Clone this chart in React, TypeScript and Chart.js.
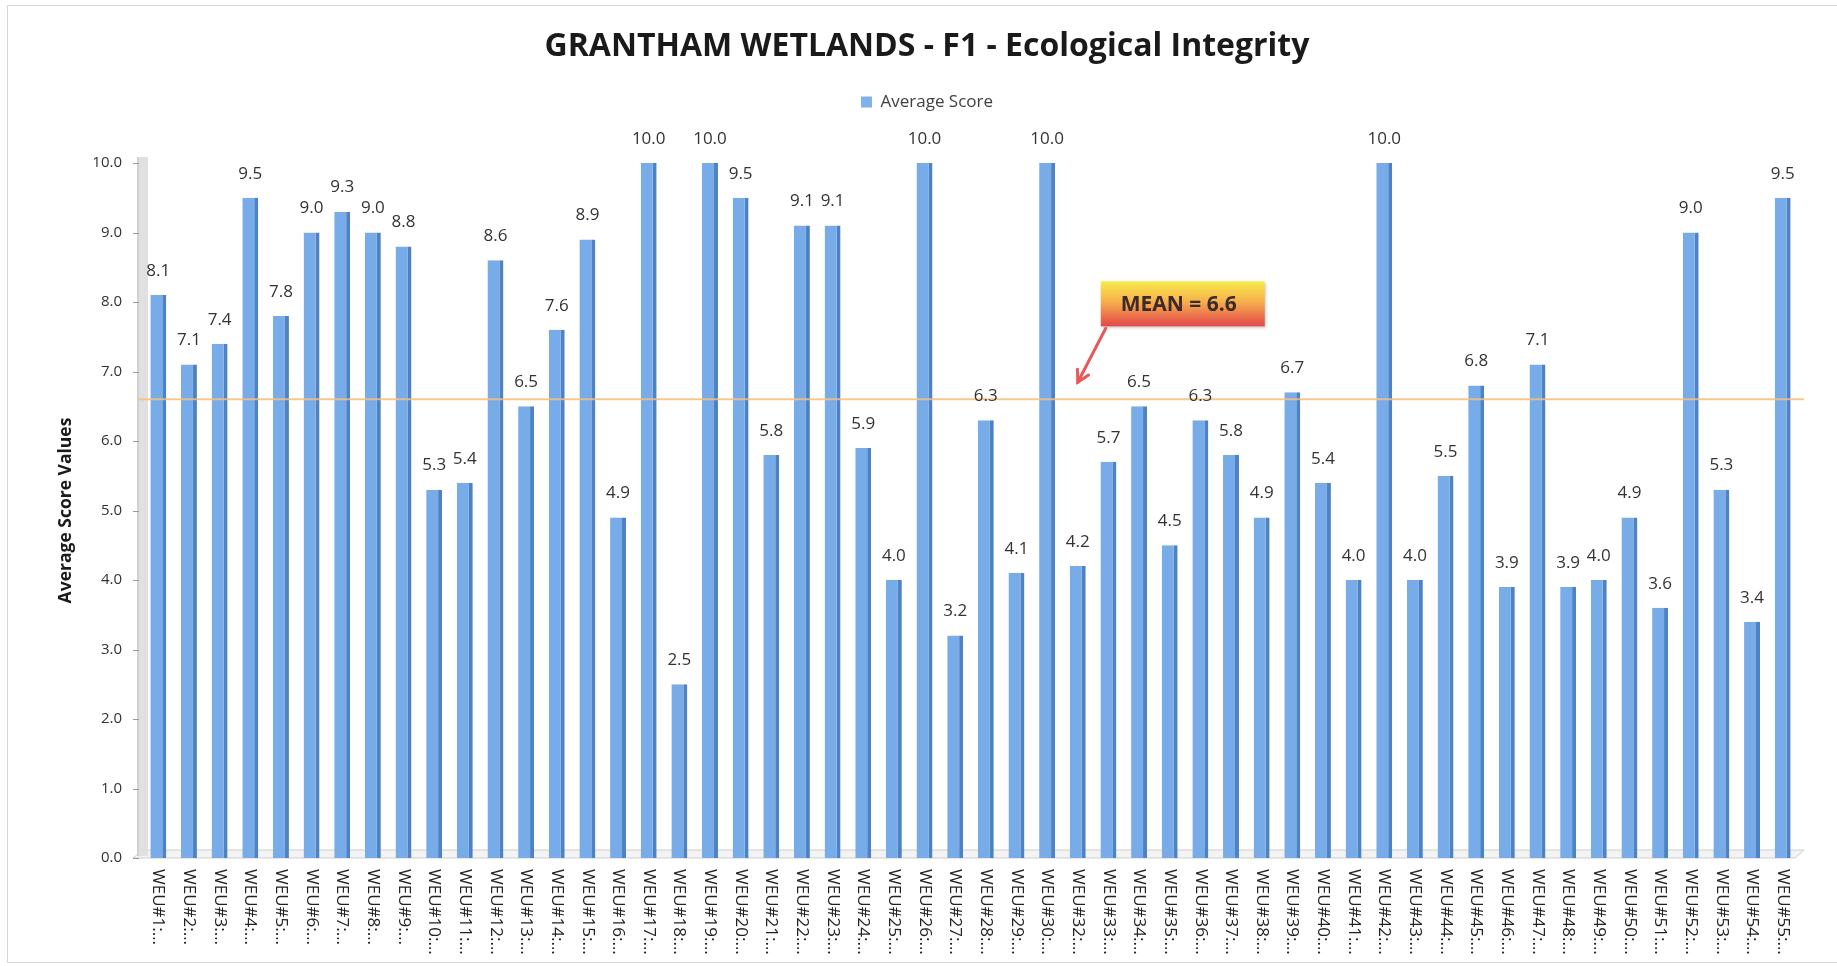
import React, { useEffect, useRef } from "react";
import { Chart, registerables } from "chart.js";

Chart.register(...registerables);

const TITLE = "GRANTHAM WETLANDS - F1 - Ecological Integrity";
const SERIES_NAME = "Average Score";
const Y_TITLE = "Average Score Values";
const MEAN = 6.6;
const MEAN_LABEL = "MEAN = 6.6";

const CATEGORIES = [
  "WEU#1:…", "WEU#2:…", "WEU#3:…", "WEU#4:…", "WEU#5:…", "WEU#6:…", "WEU#7:…", "WEU#8:…", "WEU#9:…",
  "WEU#10:…", "WEU#11:…", "WEU#12:…", "WEU#13:…", "WEU#14:…", "WEU#15:…", "WEU#16:…", "WEU#17:…",
  "WEU#18:…", "WEU#19:…", "WEU#20:…", "WEU#21:…", "WEU#22:…", "WEU#23:…", "WEU#24:…", "WEU#25:…",
  "WEU#26:…", "WEU#27:…", "WEU#28:…", "WEU#29:…", "WEU#30:…", "WEU#32:…", "WEU#33:…", "WEU#34:…",
  "WEU#35:…", "WEU#36:…", "WEU#37:…", "WEU#38:…", "WEU#39:…", "WEU#40:…", "WEU#41:…", "WEU#42:…",
  "WEU#43:…", "WEU#44:…", "WEU#45:…", "WEU#46:…", "WEU#47:…", "WEU#48:…", "WEU#49:…", "WEU#50:…",
  "WEU#51:…", "WEU#52:…", "WEU#53:…", "WEU#54:…", "WEU#55:…",
];

const VALUES = [
  8.1, 7.1, 7.4, 9.5, 7.8, 9.0, 9.3, 9.0, 8.8,
  5.3, 5.4, 8.6, 6.5, 7.6, 8.9, 4.9, 10.0,
  2.5, 10.0, 9.5, 5.8, 9.1, 9.1, 5.9, 4.0,
  10.0, 3.2, 6.3, 4.1, 10.0, 4.2, 5.7, 6.5,
  4.5, 6.3, 5.8, 4.9, 6.7, 5.4, 4.0, 10.0,
  4.0, 5.5, 6.8, 3.9, 7.1, 3.9, 4.0, 4.9,
  3.6, 9.0, 5.3, 3.4, 9.5,
];

const Y_MIN = 0;
const Y_MAX = 10;
const Y_STEP = 1;

const FONT = "'Open Sans', 'Noto Sans', sans-serif";
const BAR_FRONT = "#78ace8";
const BAR_SIDE = "#4d83c5";

const wallFloorPlugin = {
  id: "wallFloor",
  beforeDatasetsDraw(chart: any) {
    const { ctx, chartArea, scales } = chart;
    const { left, right, top, bottom } = chartArea;
    ctx.save();
    // floor
    ctx.beginPath();
    ctx.moveTo(left - 10, bottom);
    ctx.lineTo(right - 3, bottom);
    ctx.lineTo(right + 6, bottom - 8);
    ctx.lineTo(left, bottom - 8);
    ctx.closePath();
    ctx.fillStyle = "#f3f3f3";
    ctx.fill();
    ctx.strokeStyle = "#cfcfcf";
    ctx.lineWidth = 1;
    ctx.stroke();
    // wall
    ctx.fillStyle = "#e0e0e0";
    ctx.fillRect(left - 6, top - 6, 11, bottom - top + 4);
    ctx.fillStyle = "#d0d0d0";
    ctx.fillRect(left - 6, top - 6, 2, bottom - top + 4);
    // tick marks
    const y = scales.y;
    ctx.strokeStyle = "#9a9a9a";
    ctx.lineWidth = 1;
    for (let v = Y_MIN; v <= Y_MAX; v += Y_STEP) {
      const py = Math.round(y.getPixelForValue(v)) + 0.5;
      ctx.beginPath();
      ctx.moveTo(left - 10, py);
      ctx.lineTo(left - 4, py);
      ctx.stroke();
    }
    ctx.restore();
  },
};

const meanAndLabelsPlugin = {
  id: "meanAndLabels",
  afterDatasetsDraw(chart: any) {
    const { ctx, chartArea, scales } = chart;
    const y = scales.y;
    ctx.save();
    // mean line
    const my = y.getPixelForValue(MEAN);
    ctx.strokeStyle = "rgba(245, 190, 125, 0.85)";
    ctx.lineWidth = 2;
    ctx.beginPath();
    ctx.moveTo(chartArea.left - 5, my);
    ctx.lineTo(chartArea.right + 6, my);
    ctx.stroke();
    // value labels
    const meta = chart.getDatasetMeta(0);
    ctx.font = `17px ${FONT}`;
    ctx.fillStyle = "#333333";
    ctx.textAlign = "center";
    ctx.textBaseline = "middle";
    meta.data.forEach((bar: any, i: number) => {
      ctx.fillText(VALUES[i].toFixed(1), bar.x, bar.y - 24);
    });
    ctx.restore();
  },
  afterDraw(chart: any) {
    const { ctx, chartArea, scales } = chart;
    const x = scales.x;
    const y = scales.y;
    ctx.save();
    // rotated category labels
    ctx.font = `17px ${FONT}`;
    ctx.fillStyle = "#222222";
    ctx.textAlign = "left";
    ctx.textBaseline = "middle";
    CATEGORIES.forEach((label, i) => {
      const px = x.getPixelForValue(i);
      ctx.save();
      ctx.translate(px, chartArea.bottom + 11);
      ctx.rotate(Math.PI / 2);
      ctx.fillText(label, 0, 0);
      ctx.restore();
    });
    // callout
    const tipX = x.getPixelForValue(30);
    const tipY = y.getPixelForValue(MEAN) - 17;
    const bx = tipX + 23;
    const by = tipY - 101;
    const bw = 164;
    const bh = 45;
    ctx.shadowColor = "rgba(0,0,0,0.25)";
    ctx.shadowBlur = 3;
    ctx.shadowOffsetX = 1;
    ctx.shadowOffsetY = 2;
    const g = ctx.createLinearGradient(0, by, 0, by + bh);
    g.addColorStop(0, "#f8ec4a");
    g.addColorStop(0.45, "#f6b04c");
    g.addColorStop(1, "#e3474c");
    ctx.fillStyle = g;
    ctx.fillRect(bx, by, bw, bh);
    ctx.shadowColor = "transparent";
    ctx.font = `bold 21px ${FONT}`;
    ctx.fillStyle = "#3a2a2a";
    ctx.textAlign = "center";
    ctx.textBaseline = "middle";
    ctx.fillText(MEAN_LABEL, bx + bw / 2 - 4, by + bh / 2 + 1);
    // arrow
    const sx = tipX + 28;
    const sy = tipY - 54;
    ctx.strokeStyle = "#e8575a";
    ctx.lineWidth = 3;
    ctx.lineCap = "round";
    ctx.beginPath();
    ctx.moveTo(sx, sy);
    ctx.lineTo(tipX, tipY);
    ctx.stroke();
    const ang = Math.atan2(tipY - sy, tipX - sx);
    const hl = 13;
    ctx.beginPath();
    ctx.moveTo(tipX - hl * Math.cos(ang - 0.5), tipY - hl * Math.sin(ang - 0.5));
    ctx.lineTo(tipX, tipY);
    ctx.lineTo(tipX - hl * Math.cos(ang + 0.5), tipY - hl * Math.sin(ang + 0.5));
    ctx.stroke();
    // frame
    ctx.strokeStyle = "#d6d6d6";
    ctx.lineWidth = 1;
    ctx.strokeRect(7.5, 5.5, 1840, 957);
    ctx.restore();
  },
};

export default function App() {
  const ref = useRef<HTMLCanvasElement>(null);

  useEffect(() => {
    const canvas = ref.current;
    if (!canvas) return;
    const chart = new Chart(canvas, {
      type: "bar",
      data: {
        labels: CATEGORIES,
        datasets: [
          {
            label: SERIES_NAME,
            data: VALUES,
            backgroundColor: BAR_FRONT,
            borderColor: BAR_SIDE,
            borderWidth: { top: 0, left: 0, bottom: 0, right: 4 },
            borderSkipped: false,
            barPercentage: 0.52,
            categoryPercentage: 1,
          },
        ],
      },
      options: {
        responsive: false,
        animation: false,
        layout: { padding: { left: 56, right: 39, top: 0, bottom: 108 } },
        plugins: {
          title: {
            display: true,
            text: TITLE,
            color: "#1a1a1a",
            font: { family: FONT, size: 32, weight: "bold" },
            padding: { top: 28, bottom: 17.1 },
          },
          subtitle: {
            display: true,
            text: "",
            weight: 500,
            font: { size: 1 },
            padding: { top: 41.3, bottom: 0 },
          } as any,
          legend: {
            display: true,
            position: "top",
            labels: {
              color: "#404040",
              font: { family: FONT, size: 17 },
              boxWidth: 11,
              boxHeight: 11,
              padding: 10,
              generateLabels: () => [
                {
                  text: SERIES_NAME,
                  fillStyle: "#7fb2ea",
                  strokeStyle: "#7fb2ea",
                  lineWidth: 0,
                  datasetIndex: 0,
                  fontColor: "#404040",
                } as any,
              ],
            },
          },
          tooltip: { enabled: false },
        },
        scales: {
          x: {
            ticks: { display: false },
            grid: { display: false, drawTicks: false },
            border: { display: false },
          },
          y: {
            min: Y_MIN,
            max: Y_MAX,
            ticks: {
              stepSize: Y_STEP,
              color: "#333333",
              font: { family: FONT, size: 15 },
              padding: 21,
              callback: (v: any) => Number(v).toFixed(1),
            },
            grid: { display: false, drawTicks: false },
            border: { display: false },
            title: {
              display: true,
              text: Y_TITLE,
              color: "#1a1a1a",
              font: { family: FONT, size: 17.5, weight: "bold" },
              padding: { top: 0, bottom: 0 },
            },
            afterFit: (scale: any) => {
              scale.width = 87;
            },
          },
        },
      },
      plugins: [wallFloorPlugin, meanAndLabelsPlugin],
    });
    return () => chart.destroy();
  }, []);

  return (
    <div style={{ position: "absolute", left: 0, top: 0, width: 1837, height: 966, background: "#ffffff" }}>
      <canvas ref={ref} width={1837} height={966} style={{ display: "block", width: 1837, height: 966 }} />
    </div>
  );
}
